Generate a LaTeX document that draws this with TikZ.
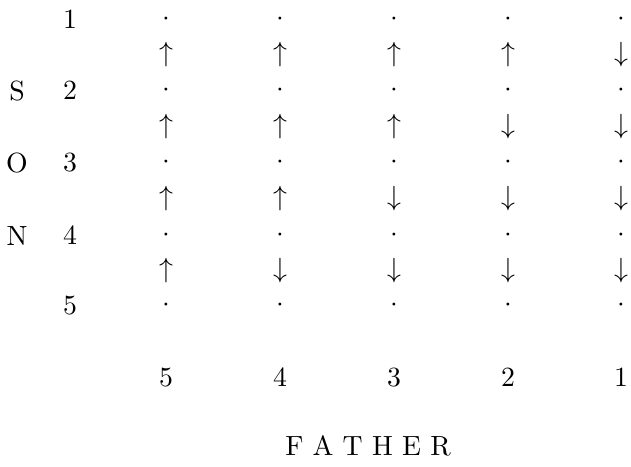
\documentclass[tikz,border=0pt]{standalone}
\begin{document}
\begin{tikzpicture}[x=0.36pt,y=-0.36pt,
  lab/.style={inner sep=0pt},
  pt/.style={inner sep=0pt},
  arr/.style={inner sep=0pt}]
\useasboundingbox (0,0) rectangle (631,467);
% row numbers on the left
\foreach \r/\y in {1/20,2/91,3/163,4/236,5/306}
  \node[lab] (row\r) at (70,\y) {$\r$};
% the word SON down the side
\node[lab] (s) at (17,91) {S};
\node[lab] (o) at (17,163) {O};
\node[lab] (n) at (17,236) {N};
% columns: grid of dots with arrows between them
\foreach \c/\x in {5/166,4/280,3/394,2/508,1/621}{
  \foreach \r/\y in {1/20,2/91,3/163,4/236,5/306}
    \node[pt] (d\c\r) at (\x,\y-1) {$\cdot$};
  \foreach \g/\y in {1/55,2/127,3/199,4/271}{
    \ifnum\g<\c
      \node[arr] (a\c\g) at (\x,\y) {$\uparrow$};
    \else
      \node[arr] (a\c\g) at (\x,\y) {$\downarrow$};
    \fi
  }
  \node[lab] (col\c) at (\x,378) {$\c$};
}
\node[lab] (father) at (368,446) {F A T H E R};
\end{tikzpicture}
\end{document}
